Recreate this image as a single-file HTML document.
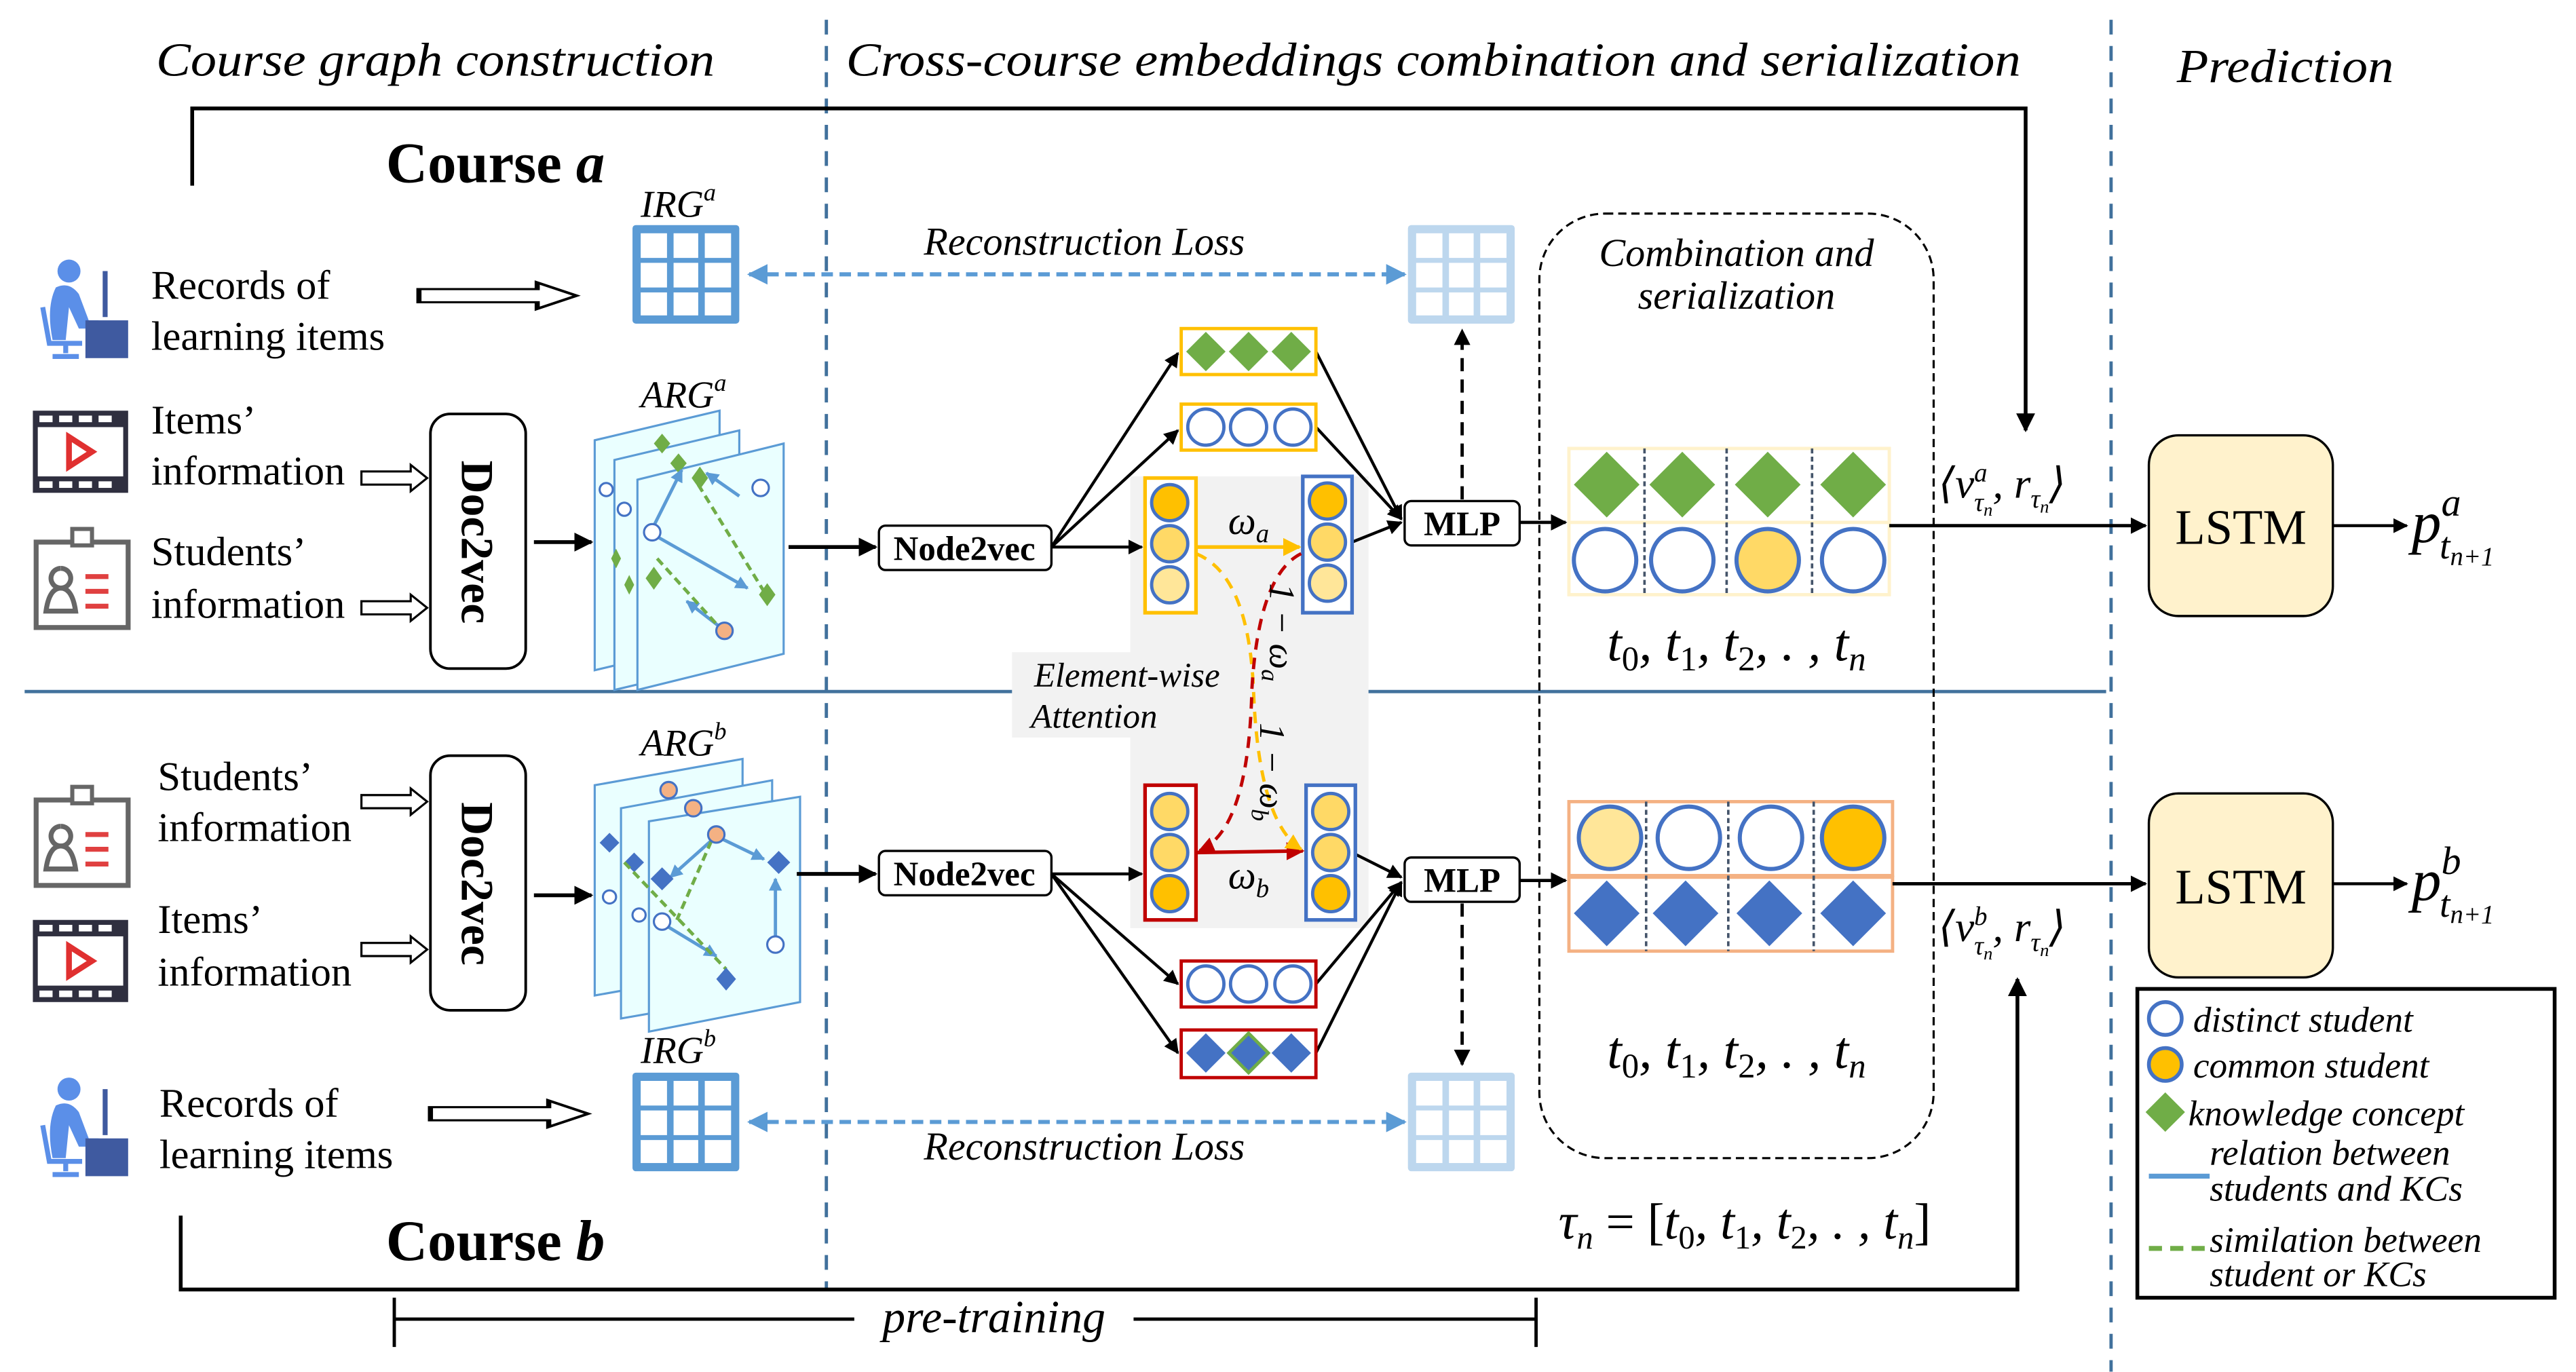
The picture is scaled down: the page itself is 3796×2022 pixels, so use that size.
<!DOCTYPE html>
<html><head><meta charset="utf-8"><style>
html,body{margin:0;padding:0;background:#fff;}
svg{display:block;}
svg text{font-family:"Liberation Serif","DejaVu Serif",serif;}
.it{font-style:italic;}
.b{font-weight:bold;}
</style></head><body>
<svg width="3796" height="2022" viewBox="0 0 1568 835.2" xmlns="http://www.w3.org/2000/svg" font-family="Liberation Serif, serif">
<defs>
<marker id="ah" viewBox="0 0 10 10" refX="9" refY="5" markerWidth="5" markerHeight="5" orient="auto-start-reverse"><path d="M0,0 L10,5 L0,10 z" fill="#000"/></marker>
<marker id="ahb" viewBox="0 0 10 10" refX="9" refY="5" markerWidth="5" markerHeight="5" orient="auto-start-reverse"><path d="M0,0 L10,5 L0,10 z" fill="#5b9bd5"/></marker>
<marker id="ahy" viewBox="0 0 10 10" refX="9" refY="5" markerWidth="5" markerHeight="5" orient="auto-start-reverse"><path d="M0,0 L10,5 L0,10 z" fill="#ffc000"/></marker>
<marker id="ahr" viewBox="0 0 10 10" refX="9" refY="5" markerWidth="5" markerHeight="5" orient="auto-start-reverse"><path d="M0,0 L10,5 L0,10 z" fill="#c00000"/></marker>
<marker id="ahs" viewBox="0 0 10 10" refX="9" refY="5" markerWidth="4" markerHeight="4" orient="auto"><path d="M0,0 L10,5 L0,10 z" fill="#5b9bd5"/></marker>
<g id="hol"><path d="M0,-4 L30,-4 L30,-8 L40,0 L30,8 L30,4 L0,4 z" fill="#fff" stroke="#000" stroke-width="1.3"/></g>
<g id="person">
<circle cx="22" cy="8" r="7" fill="#5b8fe8"/>
<path d="M14,18 Q22,14 28,22 L34,38 L40,38 L40,43 L28,43 L22,30 L20,50 L12,50 Q8,30 14,18z" fill="#5b8fe8"/>
<path d="M6,30 L10,52 L30,52" stroke="#5b8fe8" stroke-width="3" fill="none"/>
<path d="M20,52 L20,58 M12,60 L28,60" stroke="#5b8fe8" stroke-width="3" fill="none"/>
<rect x="32" y="38" width="26" height="23" fill="#3f5aa0"/>
<path d="M44,8 L44,36" stroke="#3f5aa0" stroke-width="3"/>
</g>
<g id="film">
<rect x="0" y="0" width="58" height="50" fill="#2f2f3f"/>
<rect x="3" y="10" width="52" height="30" fill="#fff"/>
<g fill="#fff"><rect x="4" y="3" width="8" height="4"/><rect x="16" y="3" width="8" height="4"/><rect x="28" y="3" width="8" height="4"/><rect x="40" y="3" width="8" height="4"/><rect x="4" y="43" width="8" height="4"/><rect x="16" y="43" width="8" height="4"/><rect x="28" y="43" width="8" height="4"/><rect x="40" y="43" width="8" height="4"/></g>
<path d="M22,16 L36,25 L22,34 z" fill="none" stroke="#e03030" stroke-width="3.5"/>
</g>
<g id="card">
<rect x="2" y="12" width="56" height="52" fill="#fff" stroke="#666" stroke-width="3"/>
<rect x="24" y="4" width="12" height="10" fill="#fff" stroke="#666" stroke-width="2.5"/>
<path d="M17,28 a6,6 0 1 0 0.1,0 M8,54 Q10,40 17,40 Q24,40 26,54z" fill="none" stroke="#666" stroke-width="3"/>
<g stroke="#e04040" stroke-width="3"><path d="M32,33 L46,33 M32,42 L46,42 M32,51 L46,51"/></g>
</g>
<g id="grid"><rect x="0" y="0" width="65" height="60" rx="2" fill="#5b9bd5"/><g fill="#fff"><rect x="5" y="5" width="16" height="15"/><rect x="25" y="5" width="15" height="15"/><rect x="44" y="5" width="16" height="15"/><rect x="5" y="23" width="16" height="15"/><rect x="25" y="23" width="15" height="15"/><rect x="44" y="23" width="16" height="15"/><rect x="5" y="41" width="16" height="14"/><rect x="25" y="41" width="15" height="14"/><rect x="44" y="41" width="16" height="14"/></g></g>
<g id="lgrid"><rect x="0" y="0" width="65" height="60" rx="2" fill="#bdd7ee"/><g fill="#fff"><rect x="5" y="5" width="16" height="15"/><rect x="25" y="5" width="15" height="15"/><rect x="44" y="5" width="16" height="15"/><rect x="5" y="23" width="16" height="15"/><rect x="25" y="23" width="15" height="15"/><rect x="44" y="23" width="16" height="15"/><rect x="5" y="41" width="16" height="14"/><rect x="25" y="41" width="15" height="14"/><rect x="44" y="41" width="16" height="14"/></g></g>
</defs>

<text x="95" y="46" class="it" font-size="29" textLength="340" lengthAdjust="spacingAndGlyphs">Course graph construction</text>
<text x="515" y="46" class="it" font-size="29" textLength="715" lengthAdjust="spacingAndGlyphs">Cross-course embeddings combination and serialization</text>
<text x="1325" y="50" class="it" font-size="29" textLength="132" lengthAdjust="spacingAndGlyphs">Prediction</text>

<line x1="503" y1="12" x2="503" y2="785" stroke="#41719c" stroke-width="2" stroke-dasharray="9,7"/>
<line x1="1285" y1="12" x2="1285" y2="835" stroke="#41719c" stroke-width="2" stroke-dasharray="9,7"/>
<line x1="15" y1="421" x2="1282" y2="421" stroke="#41719c" stroke-width="2"/>

<path d="M117,113 L117,66 L1233,66 L1233,262" fill="none" stroke="#000" stroke-width="2.3" marker-end="url(#ah)"/>
<text x="235" y="111" class="b" font-size="35">Course <tspan class="it">a</tspan></text>
<path d="M110,740 L110,785 L1228,785 L1228,596" fill="none" stroke="#000" stroke-width="2.3" marker-end="url(#ah)"/>
<text x="235" y="767" class="b" font-size="35">Course <tspan class="it">b</tspan></text>
<path d="M240,790 L240,820 M240,803 L935,803 M935,790 L935,820" stroke="#000" stroke-width="2" fill="none"/>
<rect x="520" y="788" width="170" height="28" fill="#fff"/>
<text x="605" y="811" class="it" font-size="28" text-anchor="middle">pre-training</text>

<use href="#person" x="20" y="157"/>
<text x="92" y="182" font-size="25">Records of</text>
<text x="92" y="213" font-size="25">learning items</text>
<use href="#hol" transform="translate(255,180) scale(2.4,1)"/>
<use href="#grid" x="385" y="137"/>
<text x="390" y="132" class="it" font-size="23">IRG<tspan font-size="15" dy="-10">a</tspan></text>

<use href="#film" x="20" y="250"/>
<text x="92" y="264" font-size="25">Items’</text>
<text x="92" y="295" font-size="25">information</text>
<use href="#hol" transform="translate(220,291)"/>
<use href="#card" x="20" y="318"/>
<text x="92" y="344" font-size="25">Students’</text>
<text x="92" y="376" font-size="25">information</text>
<use href="#hol" transform="translate(220,370)"/>

<rect x="262" y="252" width="58" height="155" rx="12" fill="#fff" stroke="#000" stroke-width="1.6"/>
<text transform="translate(281,330) rotate(90)" class="b" font-size="28" text-anchor="middle">Doc2vec</text>
<line x1="325" y1="330" x2="360" y2="330" stroke="#000" stroke-width="2.3" marker-end="url(#ah)"/>

<text x="390" y="248" class="it" font-size="23">ARG<tspan font-size="15" dy="-10">a</tspan></text>
<g stroke="#5b9bd5" stroke-width="1.3" fill="#eaffff">
<path d="M362,268 L438,250 L438,390 L362,408 z"/>
<path d="M374,280 L450,262 L450,402 L374,420 z"/>
<path d="M388,292 L477,270 L477,398 L388,420 z"/>
</g>
<g fill="#70ad47"><path d="M398,270 l5,-6 l5,6 l-5,6z"/><path d="M408,282 l5,-6 l5,6 l-5,6z"/><path d="M372,340 l3,-6 l3,6 l-3,6z"/><path d="M380,356 l3,-6 l3,6 l-3,6z"/></g>
<circle cx="369" cy="298" r="4" fill="#fff" stroke="#4472c4" stroke-width="1.3"/>
<circle cx="380" cy="310" r="4" fill="#fff" stroke="#4472c4" stroke-width="1.3"/>
<g stroke="#5b9bd5" stroke-width="2" fill="none">
<line x1="397" y1="322" x2="415" y2="286" marker-end="url(#ahs)"/>
<line x1="397" y1="325" x2="455" y2="358" marker-end="url(#ahs)"/>
<line x1="450" y1="302" x2="430" y2="288" marker-end="url(#ahs)"/>
<line x1="440" y1="383" x2="418" y2="366" marker-end="url(#ahs)"/>
</g>
<g stroke="#70ad47" stroke-width="2" stroke-dasharray="5,3"><line x1="425" y1="295" x2="465" y2="360"/><line x1="400" y1="340" x2="438" y2="382"/></g>
<g fill="#70ad47"><path d="M421,291 l5,-7 l5,7 l-5,7z"/><path d="M462,362 l5,-7 l5,7 l-5,7z"/><path d="M393,352 l5,-7 l5,7 l-5,7z"/></g>
<circle cx="397" cy="324" r="5" fill="#fff" stroke="#4472c4" stroke-width="1.3"/>
<circle cx="463" cy="297" r="5" fill="#fff" stroke="#4472c4" stroke-width="1.3"/>
<circle cx="441" cy="384" r="5" fill="#f4b183" stroke="#4472c4" stroke-width="1.3"/>

<line x1="480" y1="333" x2="533" y2="333" stroke="#000" stroke-width="2.3" marker-end="url(#ah)"/>
<rect x="535" y="320" width="105" height="27" rx="4" fill="#fff" stroke="#000" stroke-width="1.4"/>
<text x="587" y="341" class="b" font-size="21" text-anchor="middle">Node2vec</text>

<use href="#card" x="20" y="475"/>
<text x="96" y="481" font-size="25">Students’</text>
<text x="96" y="512" font-size="25">information</text>
<use href="#hol" transform="translate(220,488)"/>
<use href="#film" x="20" y="560"/>
<text x="96" y="568" font-size="25">Items’</text>
<text x="96" y="600" font-size="25">information</text>
<use href="#hol" transform="translate(220,578)"/>

<rect x="262" y="460" width="58" height="155" rx="12" fill="#fff" stroke="#000" stroke-width="1.6"/>
<text transform="translate(281,538) rotate(90)" class="b" font-size="28" text-anchor="middle">Doc2vec</text>
<line x1="325" y1="545" x2="360" y2="545" stroke="#000" stroke-width="2.3" marker-end="url(#ah)"/>

<text x="390" y="460" class="it" font-size="23">ARG<tspan font-size="15" dy="-10">b</tspan></text>
<g stroke="#5b9bd5" stroke-width="1.3" fill="#eaffff">
<path d="M362,478 L452,462 L452,590 L362,606 z"/>
<path d="M378,492 L470,475 L470,604 L378,620 z"/>
<path d="M395,500 L487,485 L487,610 L395,628 z"/>
</g>
<circle cx="407" cy="481" r="5" fill="#f4b183" stroke="#4472c4" stroke-width="1.3"/>
<circle cx="422" cy="492" r="5" fill="#f4b183" stroke="#4472c4" stroke-width="1.3"/>
<g fill="#4472c4"><path d="M365,513 l6,-6 l6,6 l-6,6z"/><path d="M380,525 l6,-6 l6,6 l-6,6z"/></g>
<circle cx="371" cy="546" r="4" fill="#fff" stroke="#4472c4" stroke-width="1.3"/>
<circle cx="389" cy="557" r="4" fill="#fff" stroke="#4472c4" stroke-width="1.3"/>
<g stroke="#5b9bd5" stroke-width="2" fill="none">
<line x1="436" y1="509" x2="408" y2="534" marker-end="url(#ahs)"/>
<line x1="436" y1="509" x2="465" y2="523" marker-end="url(#ahs)"/>
<line x1="472" y1="573" x2="472" y2="535" marker-end="url(#ahs)"/>
<line x1="403" y1="562" x2="436" y2="582" marker-end="url(#ahs)"/>
</g>
<g stroke="#70ad47" stroke-width="2" stroke-dasharray="5,3"><line x1="380" y1="525" x2="442" y2="590"/><line x1="433" y1="512" x2="412" y2="560"/></g>
<g fill="#4472c4"><path d="M396,535 l7,-7 l7,7 l-7,7z"/><path d="M467,525 l7,-7 l7,7 l-7,7z"/><path d="M436,596 l6,-7 l6,7 l-6,7z"/></g>
<circle cx="436" cy="508" r="5" fill="#f4b183" stroke="#4472c4" stroke-width="1.3"/>
<circle cx="472" cy="575" r="5" fill="#fff" stroke="#4472c4" stroke-width="1.3"/>
<circle cx="403" cy="561" r="5" fill="#fff" stroke="#4472c4" stroke-width="1.3"/>

<line x1="485" y1="532" x2="533" y2="532" stroke="#000" stroke-width="2.3" marker-end="url(#ah)"/>
<rect x="535" y="518" width="105" height="27" rx="4" fill="#fff" stroke="#000" stroke-width="1.4"/>
<text x="587" y="539" class="b" font-size="21" text-anchor="middle">Node2vec</text>

<use href="#person" x="20" y="655"/>
<text x="97" y="680" font-size="25">Records of</text>
<text x="97" y="711" font-size="25">learning items</text>
<use href="#hol" transform="translate(262,678) scale(2.4,1)"/>
<use href="#grid" x="385" y="653"/>
<text x="390" y="647" class="it" font-size="23">IRG<tspan font-size="15" dy="-10">b</tspan></text>

<line x1="456" y1="167" x2="855" y2="167" stroke="#5b9bd5" stroke-width="2.5" stroke-dasharray="7,4" marker-start="url(#ahb)" marker-end="url(#ahb)"/>
<text x="660" y="155" class="it" font-size="24" text-anchor="middle">Reconstruction Loss</text>
<use href="#lgrid" x="857" y="137"/>
<line x1="456" y1="683" x2="855" y2="683" stroke="#5b9bd5" stroke-width="2.5" stroke-dasharray="7,4" marker-start="url(#ahb)" marker-end="url(#ahb)"/>
<text x="660" y="706" class="it" font-size="24" text-anchor="middle">Reconstruction Loss</text>
<use href="#lgrid" x="857" y="653"/>

<rect x="688" y="290" width="145" height="275" fill="#f2f2f2"/>
<rect x="616" y="397" width="74" height="52" fill="#f2f2f2"/>
<text x="686" y="418" class="it" font-size="21" text-anchor="middle">Element-wise</text>
<text x="666" y="443" class="it" font-size="21" text-anchor="middle">Attention</text>

<g stroke="#000" stroke-width="1.8" fill="none">
<line x1="640" y1="333" x2="717" y2="215" marker-end="url(#ah)"/>
<line x1="640" y1="333" x2="717" y2="262" marker-end="url(#ah)"/>
<line x1="640" y1="333" x2="695" y2="333" marker-end="url(#ah)"/>
<line x1="640" y1="532" x2="695" y2="532" marker-end="url(#ah)"/>
<line x1="640" y1="532" x2="717" y2="599" marker-end="url(#ah)"/>
<line x1="640" y1="532" x2="717" y2="641" marker-end="url(#ah)"/>
<line x1="801" y1="214" x2="853" y2="316" marker-end="url(#ah)"/>
<line x1="801" y1="260" x2="853" y2="316" marker-end="url(#ah)"/>
<line x1="823" y1="330" x2="853" y2="318" marker-end="url(#ah)"/>
<line x1="825" y1="520" x2="853" y2="534" marker-end="url(#ah)"/>
<line x1="801" y1="599" x2="853" y2="537" marker-end="url(#ah)"/>
<line x1="801" y1="641" x2="853" y2="537" marker-end="url(#ah)"/>
</g>

<rect x="719" y="200" width="82" height="28" fill="#fff" stroke="#ffc000" stroke-width="2"/>
<g fill="#70ad47"><path d="M722,214 l12,-12 l12,12 l-12,12z"/><path d="M748,214 l12,-12 l12,12 l-12,12z"/><path d="M774,214 l12,-12 l12,12 l-12,12z"/></g>
<rect x="719" y="246" width="82" height="28" fill="#fff" stroke="#ffc000" stroke-width="2"/>
<g fill="#fff" stroke="#4472c4" stroke-width="2"><circle cx="734" cy="260" r="11"/><circle cx="760" cy="260" r="11"/><circle cx="787" cy="260" r="11"/></g>

<rect x="697" y="291" width="31" height="82" fill="#fff" stroke="#ffc000" stroke-width="2.2"/>
<g stroke="#4472c4" stroke-width="2"><circle cx="712" cy="306" r="11" fill="#ffc000"/><circle cx="712" cy="331" r="11" fill="#ffd966"/><circle cx="712" cy="356" r="11" fill="#ffe699"/></g>
<rect x="793" y="290" width="30" height="83" fill="#fff" stroke="#4472c4" stroke-width="2.2"/>
<g stroke="#4472c4" stroke-width="2"><circle cx="808" cy="305" r="11" fill="#ffc000"/><circle cx="808" cy="330" r="11" fill="#ffd966"/><circle cx="808" cy="355" r="11" fill="#ffe699"/></g>
<rect x="697" y="478" width="31" height="82" fill="#fff" stroke="#c00000" stroke-width="2.2"/>
<g stroke="#4472c4" stroke-width="2"><circle cx="712" cy="494" r="11" fill="#ffd966"/><circle cx="712" cy="519" r="11" fill="#ffd966"/><circle cx="712" cy="544" r="11" fill="#ffc000"/></g>
<rect x="795" y="478" width="30" height="82" fill="#fff" stroke="#4472c4" stroke-width="2.2"/>
<g stroke="#4472c4" stroke-width="2"><circle cx="810" cy="494" r="11" fill="#ffd966"/><circle cx="810" cy="519" r="11" fill="#ffd966"/><circle cx="810" cy="544" r="11" fill="#ffc000"/></g>

<line x1="728" y1="333" x2="791" y2="333" stroke="#ffc000" stroke-width="2.2" marker-end="url(#ahy)"/>
<text x="760" y="325" class="it" font-size="24" text-anchor="middle">ω<tspan font-size="16" dy="5">a</tspan></text>
<line x1="728" y1="519" x2="793" y2="518" stroke="#c00000" stroke-width="2.2" marker-end="url(#ahr)"/>
<text x="760" y="541" class="it" font-size="24" text-anchor="middle">ω<tspan font-size="16" dy="5">b</tspan></text>
<path d="M728,337 Q760,350 763,420 Q766,500 792,517" fill="none" stroke="#ffc000" stroke-width="2" stroke-dasharray="7,5" marker-end="url(#ahy)"/>
<path d="M792,337 Q766,350 762,420 Q760,505 730,518" fill="none" stroke="#c00000" stroke-width="2" stroke-dasharray="7,5" marker-end="url(#ahr)"/>
<text transform="translate(773,355) rotate(90)" class="it" font-size="22">1 − ω<tspan font-size="15" dy="5">a</tspan></text>
<text transform="translate(767,440) rotate(90)" class="it" font-size="22">1 − ω<tspan font-size="15" dy="5">b</tspan></text>

<rect x="719" y="585" width="82" height="28" fill="#fff" stroke="#c00000" stroke-width="2"/>
<g fill="#fff" stroke="#4472c4" stroke-width="2"><circle cx="734" cy="599" r="11"/><circle cx="760" cy="599" r="11"/><circle cx="787" cy="599" r="11"/></g>
<rect x="719" y="627" width="82" height="29" fill="#fff" stroke="#c00000" stroke-width="2"/>
<g fill="#4472c4"><path d="M722,641 l12,-12 l12,12 l-12,12z"/><path d="M748,641 l12,-12 l12,12 l-12,12z" stroke="#70ad47" stroke-width="2"/><path d="M774,641 l12,-12 l12,12 l-12,12z"/></g>

<rect x="855" y="305" width="70" height="27" rx="4" fill="#fff" stroke="#000" stroke-width="1.4"/>
<text x="890" y="326" class="b" font-size="21" text-anchor="middle">MLP</text>
<rect x="855" y="522" width="70" height="27" rx="4" fill="#fff" stroke="#000" stroke-width="1.4"/>
<text x="890" y="543" class="b" font-size="21" text-anchor="middle">MLP</text>
<line x1="890" y1="304" x2="890" y2="201" stroke="#000" stroke-width="2" stroke-dasharray="8,5" marker-end="url(#ah)"/>
<line x1="890" y1="550" x2="890" y2="648" stroke="#000" stroke-width="2" stroke-dasharray="8,5" marker-end="url(#ah)"/>
<line x1="925" y1="318" x2="953" y2="318" stroke="#000" stroke-width="2" marker-end="url(#ah)"/>
<line x1="925" y1="536" x2="953" y2="536" stroke="#000" stroke-width="2" marker-end="url(#ah)"/>

<rect x="937" y="130" width="240" height="575" rx="40" fill="none" stroke="#000" stroke-width="1.3" stroke-dasharray="5,3"/>
<text x="1057" y="162" class="it" font-size="24" text-anchor="middle">Combination and</text>
<text x="1057" y="188" class="it" font-size="24" text-anchor="middle">serialization</text>

<rect x="955" y="273" width="195" height="45" fill="#fff" stroke="#fff2cc" stroke-width="2"/>
<rect x="955" y="318" width="195" height="44" fill="#fff" stroke="#fff2cc" stroke-width="2"/>
<g stroke="#44546a" stroke-width="1.5" stroke-dasharray="3,2"><line x1="1001" y1="273" x2="1001" y2="362"/><line x1="1051" y1="273" x2="1051" y2="362"/><line x1="1103" y1="273" x2="1103" y2="362"/></g>
<g fill="#70ad47"><path d="M958,295 l20,-20 l20,20 l-20,20z"/><path d="M1004,295 l20,-20 l20,20 l-20,20z"/><path d="M1056,295 l20,-20 l20,20 l-20,20z"/><path d="M1108,295 l20,-20 l20,20 l-20,20z"/></g>
<g stroke="#4472c4" stroke-width="2.5"><circle cx="977" cy="341" r="19" fill="#fff"/><circle cx="1024" cy="341" r="19" fill="#fff"/><circle cx="1076" cy="341" r="19" fill="#ffd966"/><circle cx="1128" cy="341" r="19" fill="#fff"/></g>
<text x="1057" y="402" class="it" font-size="32" text-anchor="middle">t<tspan font-size="21" dy="6" font-style="normal">0</tspan><tspan dy="-6">, t</tspan><tspan font-size="21" dy="6" font-style="normal">1</tspan><tspan dy="-6">, t</tspan><tspan font-size="21" dy="6" font-style="normal">2</tspan><tspan dy="-6">, . , t</tspan><tspan font-size="21" dy="6">n</tspan></text>

<rect x="955" y="488" width="197" height="45" fill="#fff" stroke="#f4b183" stroke-width="2"/>
<rect x="955" y="534" width="197" height="45" fill="#fff" stroke="#f4b183" stroke-width="2"/>
<g stroke="#44546a" stroke-width="1.5" stroke-dasharray="3,2"><line x1="1002" y1="488" x2="1002" y2="579"/><line x1="1052" y1="488" x2="1052" y2="579"/><line x1="1104" y1="488" x2="1104" y2="579"/></g>
<g stroke="#4472c4" stroke-width="2.5"><circle cx="980" cy="510" r="19" fill="#ffe699"/><circle cx="1028" cy="510" r="19" fill="#fff"/><circle cx="1078" cy="510" r="19" fill="#fff"/><circle cx="1128" cy="510" r="19" fill="#ffc000"/></g>
<g fill="#4472c4"><path d="M958,556 l20,-20 l20,20 l-20,20z"/><path d="M1006,556 l20,-20 l20,20 l-20,20z"/><path d="M1057,556 l20,-20 l20,20 l-20,20z"/><path d="M1108,556 l20,-20 l20,20 l-20,20z"/></g>
<text x="1057" y="650" class="it" font-size="32" text-anchor="middle">t<tspan font-size="21" dy="6" font-style="normal">0</tspan><tspan dy="-6">, t</tspan><tspan font-size="21" dy="6" font-style="normal">1</tspan><tspan dy="-6">, t</tspan><tspan font-size="21" dy="6" font-style="normal">2</tspan><tspan dy="-6">, . , t</tspan><tspan font-size="21" dy="6">n</tspan></text>
<text x="1062" y="754" class="it" font-size="31" text-anchor="middle">τ<tspan font-size="20" dy="6">n</tspan><tspan dy="-6" font-style="normal"> = [</tspan>t<tspan font-size="20" dy="6" font-style="normal">0</tspan><tspan dy="-6">, t</tspan><tspan font-size="20" dy="6" font-style="normal">1</tspan><tspan dy="-6">, t</tspan><tspan font-size="20" dy="6" font-style="normal">2</tspan><tspan dy="-6">, . , t</tspan><tspan font-size="20" dy="6">n</tspan><tspan dy="-6" font-style="normal">]</tspan></text>

<line x1="1150" y1="320" x2="1306" y2="320" stroke="#000" stroke-width="2" marker-end="url(#ah)"/>
<line x1="1152" y1="538" x2="1306" y2="538" stroke="#000" stroke-width="2" marker-end="url(#ah)"/>
<text x="1180" y="303" class="it" font-size="26">⟨v<tspan font-size="16" dy="-10">a</tspan><tspan font-size="16" dx="-8" dy="18">τ</tspan><tspan font-size="11" dy="3">n</tspan><tspan dy="-11">, r</tspan><tspan font-size="16" dy="6">τ</tspan><tspan font-size="11" dy="3">n</tspan><tspan dy="-9">⟩</tspan></text>
<text x="1180" y="573" class="it" font-size="26">⟨v<tspan font-size="16" dy="-10">b</tspan><tspan font-size="16" dx="-8" dy="18">τ</tspan><tspan font-size="11" dy="3">n</tspan><tspan dy="-11">, r</tspan><tspan font-size="16" dy="6">τ</tspan><tspan font-size="11" dy="3">n</tspan><tspan dy="-9">⟩</tspan></text>

<rect x="1308" y="265" width="112" height="110" rx="18" fill="#fff2cc" stroke="#000" stroke-width="1.4"/>
<text x="1364" y="331" font-size="30" text-anchor="middle">LSTM</text>
<rect x="1308" y="483" width="112" height="112" rx="18" fill="#fff2cc" stroke="#000" stroke-width="1.4"/>
<text x="1364" y="550" font-size="30" text-anchor="middle">LSTM</text>
<line x1="1420" y1="320" x2="1465" y2="320" stroke="#000" stroke-width="1.8" marker-end="url(#ah)"/>
<line x1="1420" y1="538" x2="1465" y2="538" stroke="#000" stroke-width="1.8" marker-end="url(#ah)"/>
<text x="1468" y="330" class="it" font-size="36">p<tspan font-size="24" dy="-16">a</tspan><tspan font-size="23" dx="-13" dy="26">t</tspan><tspan font-size="16" dy="4">n+1</tspan></text>
<text x="1468" y="548" class="it" font-size="36">p<tspan font-size="24" dy="-16">b</tspan><tspan font-size="23" dx="-13" dy="26">t</tspan><tspan font-size="16" dy="4">n+1</tspan></text>

<rect x="1301" y="602" width="254" height="188" fill="#fff" stroke="#000" stroke-width="2.3"/>
<circle cx="1318" cy="620" r="10" fill="#fff" stroke="#4472c4" stroke-width="2.3"/>
<text x="1335" y="628" class="it" font-size="22">distinct student</text>
<circle cx="1318" cy="648" r="10" fill="#ffc000" stroke="#4472c4" stroke-width="2.3"/>
<text x="1335" y="656" class="it" font-size="22">common student</text>
<path d="M1306,677 l12,-12 l12,12 l-12,12z" fill="#70ad47"/>
<text x="1332" y="685" class="it" font-size="22">knowledge concept</text>
<line x1="1308" y1="716" x2="1345" y2="716" stroke="#5b9bd5" stroke-width="3"/>
<text x="1345" y="709" class="it" font-size="22">relation between</text>
<text x="1345" y="731" class="it" font-size="22">students and KCs</text>
<line x1="1308" y1="760" x2="1345" y2="760" stroke="#70ad47" stroke-width="3" stroke-dasharray="8,5"/>
<text x="1345" y="762" class="it" font-size="22">similation between</text>
<text x="1345" y="783" class="it" font-size="22">student or KCs</text>
</svg>
</body></html>
